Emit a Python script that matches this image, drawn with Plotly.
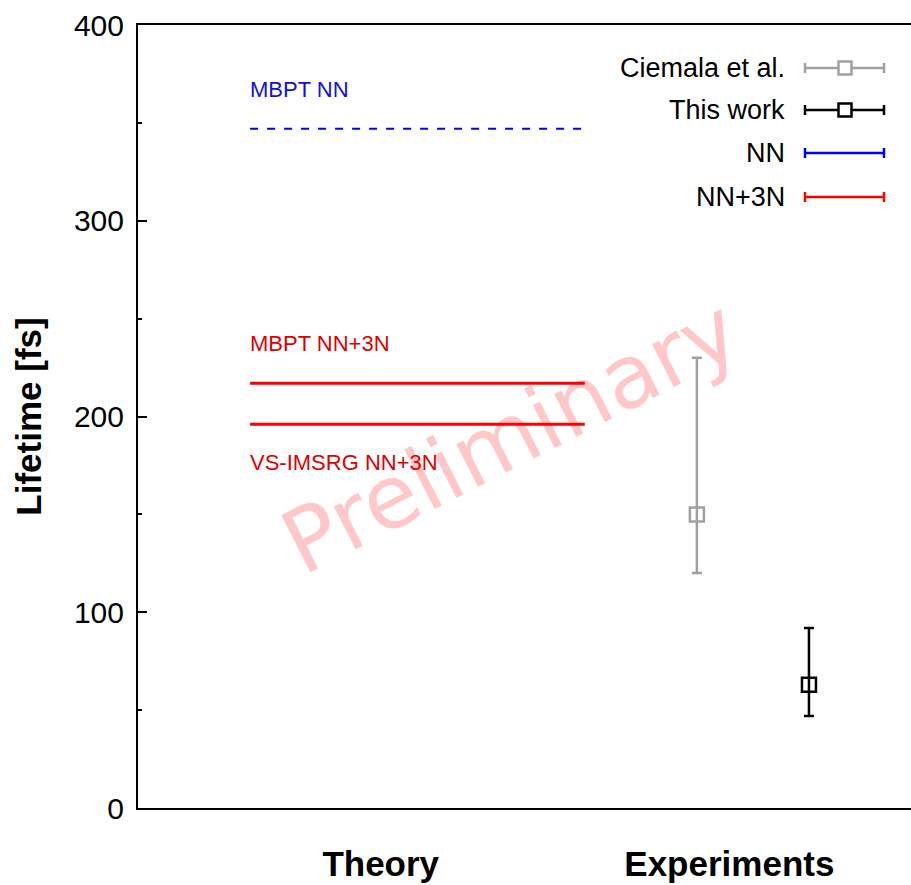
import plotly.graph_objects as go

# Theoretical lifetimes (fs)
theory_labels = ["MBPT NN", "MBPT NN+3N", "VS-IMSRG NN+3N"]
theory_values = [347, 217, 196]

# Experimental lifetimes (fs) with asymmetric uncertainties
exp_names = ["Ciemala et al.", "This work"]
exp_values = [150, 63]
exp_err_plus = [80, 29]
exp_err_minus = [30, 16]

# Category labels along the horizontal axis
category_labels = ["Theory", "Experiments"]

# Legend entries
legend_names = ["Ciemala et al.", "This work", "NN", "NN+3N"]

# ---- layout / style constants ----
W, H = 911, 885
L, R, T, B = 138, 0, 25, 77
PW, PH = W - L - R, H - T - B
XR = [0, 10]
category_pos = [3.14, 7.65]
exp_x = [7.23, 8.68]
theory_span = [1.45, 5.78]
theory_colors = ["#0000ff", "#ff0000", "#ff0000"]
theory_text_colors = ["#1010e0", "#e00000", "#e00000"]
theory_dash = ["8px,9px", "solid", "solid"]
theory_width = [2, 3, 3]
theory_label_shift = [39, 40, -38]
exp_colors = ["#a0a0a0", "#000000"]
legend_colors = ["#a0a0a0", "#000000", "#0000ff", "#ff0000"]
legend_marker = [True, True, False, False]
FONT = "Liberation Sans, Arial, Helvetica, sans-serif"

fig = go.Figure()

for lab, v, c, d, w in zip(theory_labels, theory_values, theory_colors, theory_dash, theory_width):
    fig.add_trace(go.Scatter(
        x=theory_span, y=[v, v], mode="lines",
        line=dict(color=c, width=w, dash=d),
        name=lab, showlegend=False, hoverinfo="skip"))

for x, v, ep, em, c, n in zip(exp_x, exp_values, exp_err_plus, exp_err_minus, exp_colors, exp_names):
    fig.add_trace(go.Scatter(
        x=[x], y=[v], mode="markers", name=n, showlegend=False,
        marker=dict(symbol="square-open", size=14, color=c, line=dict(width=2.5, color=c)),
        error_y=dict(type="data", symmetric=False, array=[ep], arrayminus=[em],
                     color=c, thickness=2.5, width=5)))

annotations = []
for lab, v, c, s in zip(theory_labels, theory_values, theory_text_colors, theory_label_shift):
    annotations.append(dict(
        x=theory_span[0], y=v, xref="x", yref="y", text=lab, showarrow=False,
        xanchor="left", yanchor="middle", yshift=s, xshift=-2,
        font=dict(family=FONT, size=22, color=c)))

# Watermark
annotations.append(dict(
    x=(510 - L) / PW, y=(H - B - 437) / PH, xref="paper", yref="paper",
    text="Preliminary", showarrow=False, textangle=-27,
    xanchor="center", yanchor="middle",
    font=dict(family="DejaVu Sans, Verdana, sans-serif", size=88,
              color="rgba(255,0,0,0.22)")))

# Legend drawn in the upper right corner, text right-aligned with keys to the right
shapes = []
row_px = [68, 110, 153, 197]
text_right = (787 - L) / PW
key_x0 = (805 - L) / PW
key_x1 = (884 - L) / PW
key_mid = (845 - L) / PW
for name, c, mk, py in zip(legend_names, legend_colors, legend_marker, row_px):
    yp = (H - B - py) / PH
    annotations.append(dict(
        x=text_right, y=yp, xref="paper", yref="paper", text=name, showarrow=False,
        xanchor="right", yanchor="middle",
        font=dict(family=FONT, size=27, color="#000000")))
    shapes.append(dict(type="line", xref="paper", yref="paper",
                       x0=key_x0, x1=key_x1, y0=yp, y1=yp,
                       line=dict(color=c, width=2.5)))
    for xe in (key_x0, key_x1):
        shapes.append(dict(type="line", xref="paper", yref="paper",
                           xsizemode="pixel", ysizemode="pixel",
                           xanchor=xe, yanchor=yp, x0=0, x1=0, y0=-5, y1=5,
                           line=dict(color=c, width=2.5)))
    if mk:
        shapes.append(dict(type="rect", xref="paper", yref="paper",
                           xsizemode="pixel", ysizemode="pixel",
                           xanchor=key_mid, yanchor=yp, x0=-6.5, x1=6.5, y0=-6.5, y1=6.5,
                           fillcolor="white", line=dict(color=c, width=2.5)))

fig.update_layout(
    width=W, height=H,
    margin=dict(l=L, r=R, t=T, b=B, autoexpand=False),
    paper_bgcolor="white", plot_bgcolor="white",
    showlegend=False,
    annotations=annotations, shapes=shapes,
    font=dict(family=FONT, color="#000000"),
    xaxis=dict(range=XR, showgrid=False, zeroline=False,
               showline=True, linecolor="#000000", linewidth=2, mirror=True,
               tickmode="array", tickvals=category_pos, ticktext=category_labels,
               ticks="", ticklabelstandoff=24,
               tickfont=dict(family=FONT, size=35, weight="bold", color="#000000")),
    yaxis=dict(range=[0, 400], showgrid=False, zeroline=False,
               showline=True, linecolor="#000000", linewidth=2,
               tickmode="linear", tick0=0, dtick=100,
               ticks="inside", ticklen=9, tickwidth=1.5, tickcolor="#000000",
               minor=dict(ticks="inside", ticklen=4, tickwidth=1.5, tick0=50, dtick=100,
                          tickcolor="#000000"),
               ticklabelstandoff=6,
               tickfont=dict(family=FONT, size=30, color="#000000"),
               title=dict(text="Lifetime [fs]", standoff=22,
                          font=dict(family=FONT, size=35, weight="bold", color="#000000"))),
)

fig.write_html("out.html")
